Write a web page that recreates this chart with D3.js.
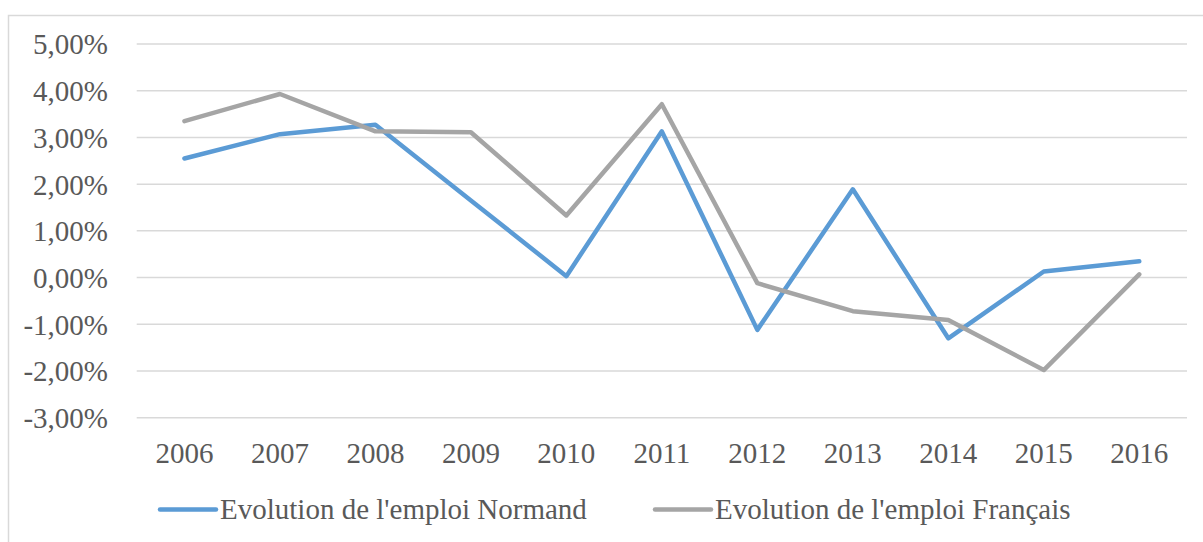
<!DOCTYPE html>
<html>
<head>
<meta charset="utf-8">
<script src="https://cdn.jsdelivr.net/npm/d3@7"></script>
<style>
  body { margin: 0; background: #fff; }
</style>
</head>
<body>
<div id="chart"></div>
<script>
// years on the x axis
var years = ["2006", "2007", "2008", "2009", "2010", "2011", "2012", "2013", "2014", "2015", "2016"];
// employment change, in %
var normand = [2.55, 3.07, 3.27, 1.65, 0.03, 3.13, -1.12, 1.89, -1.30, 0.13, 0.35];
var francais = [3.35, 3.93, 3.13, 3.11, 1.33, 3.71, -0.12, -0.72, -0.91, -1.98, 0.07];
var yTicks = [-3, -2, -1, 0, 1, 2, 3, 4, 5];
var seriesNames = ["Evolution de l'emploi Normand", "Evolution de l'emploi Français"];
var seriesColours = ["#5B9BD5", "#A5A5A5"];

var FONT = "'Liberation Serif', 'DejaVu Serif', serif";
var FSIZE = 29;
var w = 1203, h = 542;
var svg = d3.select("#chart").append("svg").attr("width", w).attr("height", h)
  .attr("font-family", FONT);

// chart frame (only top and left edges show)
svg.append("rect")
  .attr("x", 8.5).attr("y", 15.5)
  .attr("width", 1250).attr("height", 600)
  .attr("fill", "none").attr("stroke", "#D9D9D9").attr("stroke-width", 1.5);

var x = d3.scaleBand().domain(years).range([136.7, 1187]);
var y = d3.scaleLinear().domain([-3, 5]).range([417.7, 44]);

// gridlines
svg.append("g").selectAll("line")
  .data(yTicks)
  .enter().append("line")
  .attr("x1", x.range()[0]).attr("x2", x.range()[1])
  .attr("y1", function(d) { return y(d); })
  .attr("y2", function(d) { return y(d); })
  .attr("stroke", "#D9D9D9").attr("stroke-width", 1.5);

// y labels
var fmt = function(d) { return d.toFixed(2).replace(".", ",") + "%"; };
svg.append("g").selectAll("text")
  .data(yTicks)
  .enter().append("text")
  .attr("x", 108)
  .attr("y", function(d) { return y(d); })
  .attr("dy", "0.36em")
  .attr("text-anchor", "end")
  .attr("font-size", FSIZE)
  .attr("fill", "#595959")
  .text(fmt);

// x labels
svg.append("g").selectAll("text")
  .data(years)
  .enter().append("text")
  .attr("x", function(d) { return x(d) + x.bandwidth() / 2; })
  .attr("y", 462.5)
  .attr("text-anchor", "middle")
  .attr("font-size", FSIZE)
  .attr("fill", "#595959")
  .text(function(d) { return d; });

var line = d3.line()
  .x(function(d, i) { return x(years[i]) + x.bandwidth() / 2; })
  .y(function(d) { return y(d); });

[normand, francais].forEach(function(s, i) {
  svg.append("path")
    .datum(s)
    .attr("d", line)
    .attr("fill", "none")
    .attr("stroke", seriesColours[i])
    .attr("stroke-width", 4.5)
    .attr("stroke-linejoin", "round")
    .attr("stroke-linecap", "round");
});

// legend
var legendX = [160, 655];
var lg = svg.append("g").selectAll("g")
  .data(seriesNames)
  .enter().append("g")
  .attr("transform", function(d, i) { return "translate(" + legendX[i] + ",509.5)"; });
lg.append("line")
  .attr("x1", 0).attr("x2", 56)
  .attr("stroke", function(d, i) { return seriesColours[i]; })
  .attr("stroke-width", 4.5)
  .attr("stroke-linecap", "round");
lg.append("text")
  .attr("x", 60).attr("y", 9)
  .attr("font-size", FSIZE)
  .attr("fill", "#595959")
  .text(function(d) { return d; });
</script>
</body>
</html>
